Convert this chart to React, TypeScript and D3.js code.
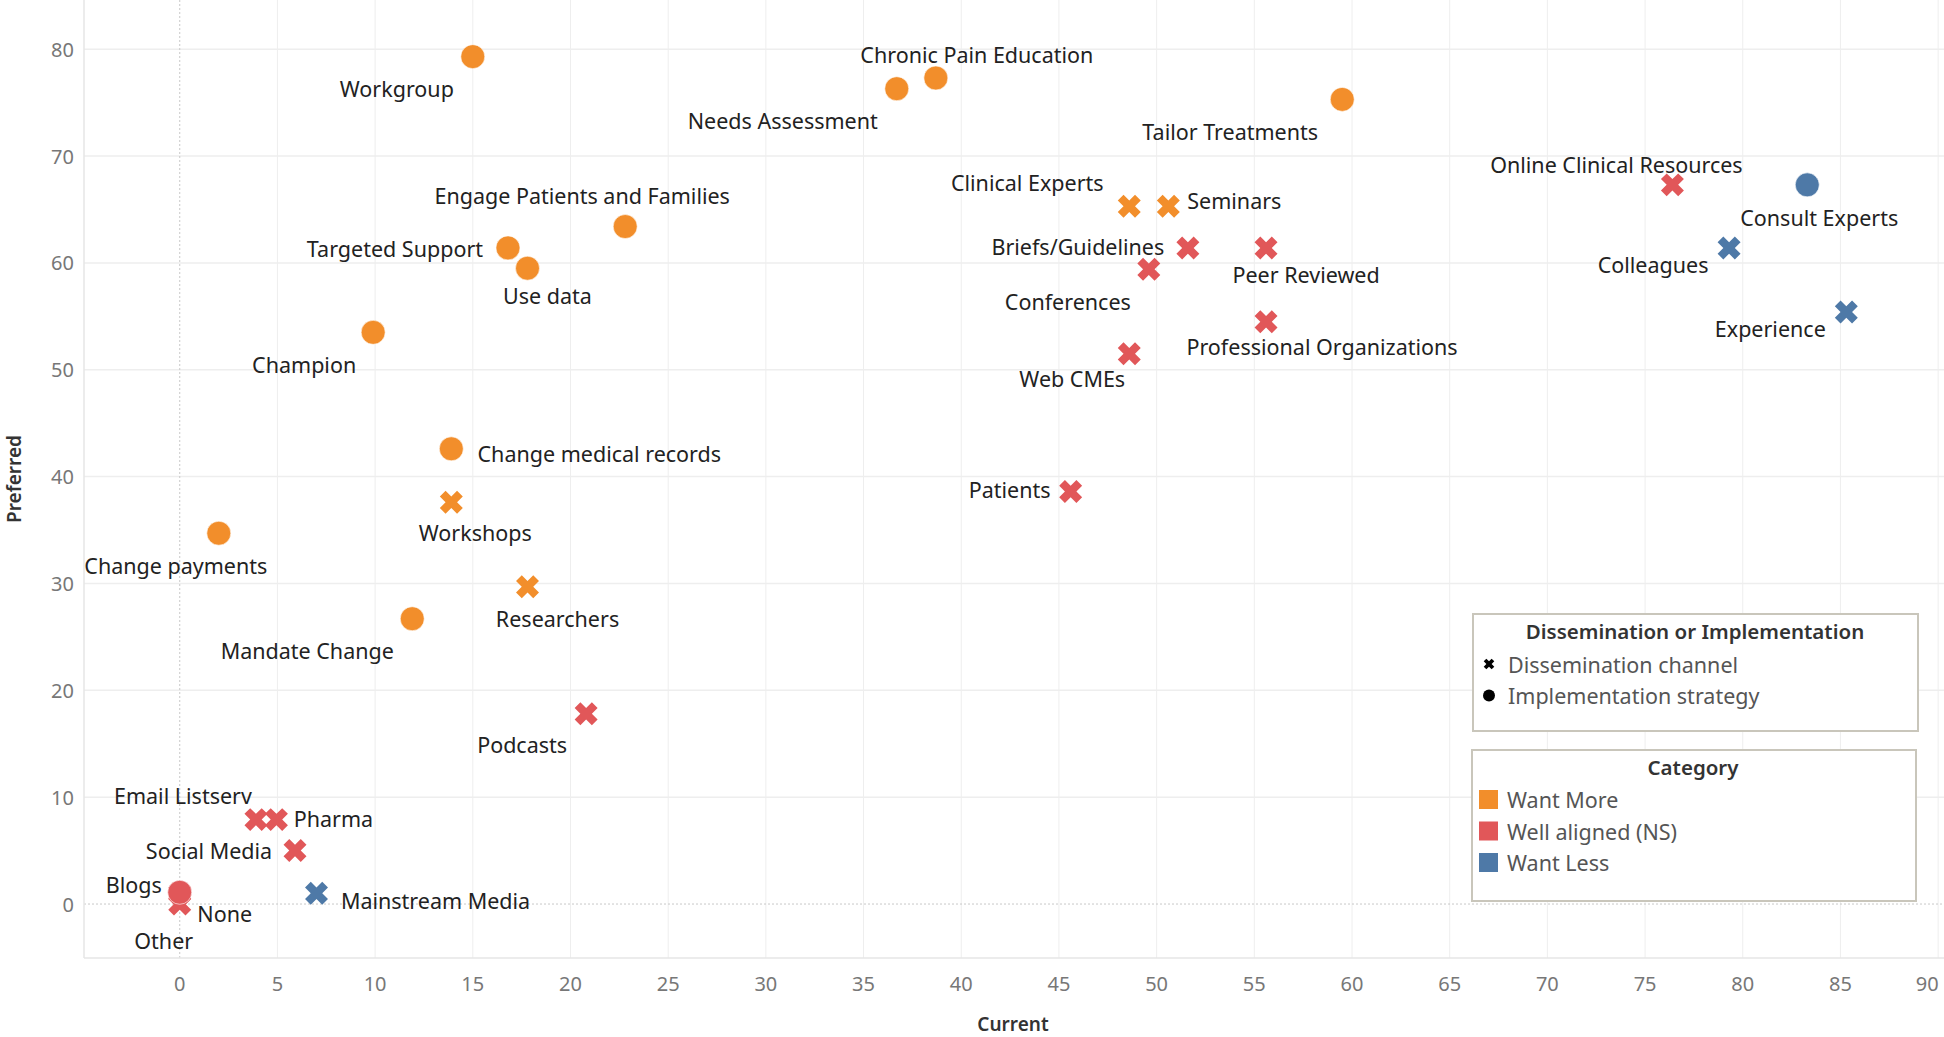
import React from "react";
import * as d3 from "d3";

const names = [
  "Workgroup", "Chronic Pain Education", "Needs Assessment", "Tailor Treatments",
  "Engage Patients and Families", "Targeted Support", "Use data", "Champion",
  "Change medical records", "Workshops", "Change payments", "Researchers",
  "Mandate Change", "Podcasts", "Email Listserv", "Pharma", "Social Media",
  "Blogs", "None", "Other", "Mainstream Media", "Clinical Experts", "Seminars",
  "Briefs/Guidelines", "Peer Reviewed", "Conferences", "Professional Organizations",
  "Web CMEs", "Patients", "Online Clinical Resources", "Consult Experts",
  "Colleagues", "Experience",
];
const currentVals = [
  15, 38.7, 36.7, 59.5, 22.8, 16.8, 17.8, 9.9, 13.9, 13.9, 2, 17.8, 11.9, 20.8,
  3.9, 4.95, 5.9, 0, 0, 0, 7, 48.6, 50.6, 51.6, 55.6, 49.6, 55.6, 48.6, 45.6,
  76.4, 83.3, 79.3, 85.3,
];
const preferredVals = [
  79.3, 77.3, 76.3, 75.3, 63.4, 61.4, 59.5, 53.5, 42.6, 37.6, 34.7, 29.7, 26.7,
  17.8, 7.9, 7.9, 5, 1, 0, 1.1, 1, 65.3, 65.3, 61.4, 61.4, 59.4, 54.5, 51.5,
  38.6, 67.3, 67.3, 61.4, 55.4,
];
// "D" = Dissemination channel, "I" = Implementation strategy
const kinds = [
  "I", "I", "I", "I", "I", "I", "I", "I", "I", "D", "I", "D", "I", "D", "D",
  "D", "D", "D", "D", "I", "D", "D", "D", "D", "D", "D", "D", "D", "D", "D",
  "I", "D", "D",
];
const cats = [
  "Want More", "Want More", "Want More", "Want More", "Want More", "Want More",
  "Want More", "Want More", "Want More", "Want More", "Want More", "Want More",
  "Want More", "Well aligned (NS)", "Well aligned (NS)", "Well aligned (NS)",
  "Well aligned (NS)", "Well aligned (NS)", "Well aligned (NS)",
  "Well aligned (NS)", "Want Less", "Want More", "Want More",
  "Well aligned (NS)", "Well aligned (NS)", "Well aligned (NS)",
  "Well aligned (NS)", "Well aligned (NS)", "Well aligned (NS)",
  "Well aligned (NS)", "Want Less", "Want Less", "Want Less",
];
// label offsets from the mark (px)
const labelDx = [
  -76, 41, -114, -112, -43, -113, 20, -69, 148, 24, -43, 30, -105, -64, -73, 57,
  -86, -46, 45, -16, 119, -102, 66, -110, 40, -81, 56, -57, -61, -56, 12, -76, -76,
];
const labelDy = [
  32, -24, 32, 32, -31, 1, 27, 32, 5, 30, 32, 32, 32, 31, -24, -1, 0, -9, 9, 48,
  7, -24, -6, -1, 27, 32, 25, 25, -2, -20, 33, 17, 16,
];

const categoryNames = ["Want More", "Well aligned (NS)", "Want Less"];
const categoryColors = ["#F28E2B", "#E15759", "#4E79A7"];
const kindNames = ["Dissemination channel", "Implementation strategy"];
const xTicks = d3.range(0, 91, 5);
const yTicks = d3.range(0, 81, 10);

const W = 1944;
const H = 1037;
const FONT = "'Noto Sans', 'Open Sans', sans-serif";

export default function App() {
  const plotLeft = 84, plotRight = W, plotTop = 0, plotBottom = 958;
  const x = d3.scaleLinear().domain([-4.9, 90.3]).range([plotLeft, plotRight]);
  const y = d3.scaleLinear().domain([-5.05, 84.6]).range([plotBottom, plotTop]);
  const color = d3.scaleOrdinal<string, string>().domain(categoryNames).range(categoryColors);
  const xPath = d3.symbol().type(d3.symbolCross).size(330)() as string;
  const xPathSmall = d3.symbol().type(d3.symbolCross).size(70)() as string;

  const pts = names.map((n, i) => ({
    name: n, cx: x(currentVals[i]), cy: y(preferredVals[i]),
    kind: kinds[i], cat: cats[i], dx: labelDx[i], dy: labelDy[i],
  }));

  return (
    <svg width={W} height={H} style={{ position: "absolute", left: 0, top: 0, background: "#fff" }} fontFamily={FONT}>
      {/* gridlines */}
      {xTicks.filter((t) => t !== 0).map((t) => (
        <line key={"gx" + t} x1={x(t)} x2={x(t)} y1={plotTop} y2={plotBottom} stroke="#eeeeee" strokeWidth={1} />
      ))}
      {yTicks.filter((t) => t !== 0).map((t) => (
        <line key={"gy" + t} x1={plotLeft} x2={plotRight} y1={y(t)} y2={y(t)} stroke="#eeeeee" strokeWidth={1.5} />
      ))}
      {/* zero lines */}
      <line x1={x(0)} x2={x(0)} y1={plotTop} y2={plotBottom} stroke="#c8c8c8" strokeWidth={1} strokeDasharray="2,2" />
      <line x1={plotLeft} x2={plotRight} y1={y(0)} y2={y(0)} stroke="#c8c8c8" strokeWidth={1} strokeDasharray="2,2" />
      {/* axis borders */}
      <line x1={plotLeft} x2={plotLeft} y1={plotTop} y2={plotBottom} stroke="#e6e6e6" strokeWidth={1.5} />
      <line x1={plotLeft} x2={plotRight} y1={plotBottom} y2={plotBottom} stroke="#e6e6e6" strokeWidth={1.5} />

      {/* tick labels */}
      {yTicks.map((t) => (
        <text key={"ty" + t} x={74} y={y(t)} textAnchor="end" dominantBaseline="central" fontSize={20} fill="#777">
          {t}
        </text>
      ))}
      {xTicks.map((t) => (
        <text key={"tx" + t} x={t === 90 ? x(t) - 11 : x(t)} y={983} textAnchor="middle" dominantBaseline="central" fontSize={20} fill="#777">
          {t}
        </text>
      ))}
      <text x={1013} y={1024} textAnchor="middle" dominantBaseline="central" fontSize={19} fontWeight={600} fill="#333">
        Current
      </text>
      <text transform={`translate(14,${(plotTop + plotBottom) / 2}) rotate(-90)`} textAnchor="middle" dominantBaseline="central" fontSize={19} fontWeight={600} fill="#333">
        Preferred
      </text>

      {/* legends */}
      <g>
        <rect x={1473} y={614} width={445} height={117} fill="#fff" stroke="#c9c6bb" strokeWidth={2} />
        <text x={1695} y={631} textAnchor="middle" dominantBaseline="central" fontSize={20.5} fontWeight={600} fill="#333">
          Dissemination or Implementation
        </text>
        {kindNames.map((k, i) => (
          <g key={k}>
            {i === 0 ? (
              <path d={xPathSmall} transform={`translate(1489,${664 + i * 31.5}) rotate(45)`} fill="#000" />
            ) : (
              <circle cx={1489} cy={664 + i * 31.5} r={6} fill="#000" />
            )}
            <text x={1508} y={664 + i * 31.5} dominantBaseline="central" fontSize={21.5} fill="#555">
              {k}
            </text>
          </g>
        ))}
        <rect x={1472} y={750} width={444} height={151} fill="#fff" stroke="#c9c6bb" strokeWidth={2} />
        <text x={1693} y={767} textAnchor="middle" dominantBaseline="central" fontSize={20.5} fontWeight={600} fill="#333">
          Category
        </text>
        {categoryNames.map((c, i) => (
          <g key={c}>
            <rect x={1479} y={790 + i * 31.5} width={19} height={19} fill={color(c)} />
            <text x={1507} y={799.5 + i * 31.5} dominantBaseline="central" fontSize={21.5} fill="#555">
              {c}
            </text>
          </g>
        ))}
      </g>

      {/* marks */}
      {pts.map((p) =>
        p.kind === "I" ? (
          <circle key={"m" + p.name} cx={p.cx} cy={p.cy} r={12} fill={color(p.cat)} stroke="#fff" strokeWidth={0.6} />
        ) : (
          <path key={"m" + p.name} d={xPath} transform={`translate(${p.cx},${p.cy}) rotate(45)`} fill={color(p.cat)} />
        )
      )}
      {/* labels */}
      {pts.map((p) => (
        <text key={"l" + p.name} x={p.cx + p.dx} y={p.cy + p.dy} textAnchor="middle" dominantBaseline="central" fontSize={21.5} fill="#222">
          {p.name}
        </text>
      ))}
    </svg>
  );
}
